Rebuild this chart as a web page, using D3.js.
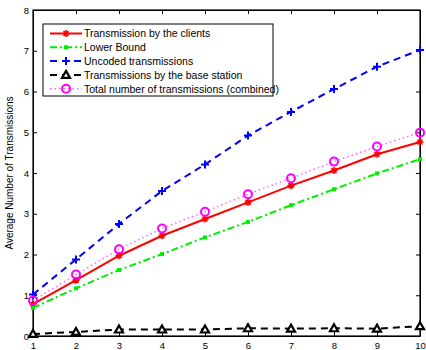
<!DOCTYPE html>
<html>
<head>
<meta charset="utf-8">
<script src="https://cdn.jsdelivr.net/npm/d3@7"></script>
<style>
  body { margin: 0; background: #fff; }
  text { font-family: "Liberation Sans", Arial, sans-serif; }
</style>
</head>
<body>
<div id="chart"></div>
<script>
const clients = [0.78, 1.37, 1.97, 2.46, 2.87, 3.28, 3.69, 4.06, 4.46, 4.76];
const lowerBound = [0.69, 1.17, 1.62, 2.01, 2.42, 2.8, 3.21, 3.6, 3.99, 4.34];
const uncoded = [1.02, 1.88, 2.75, 3.56, 4.21, 4.92, 5.5, 6.06, 6.61, 7.02];
const baseStation = [0.05, 0.1, 0.16, 0.16, 0.16, 0.19, 0.18, 0.19, 0.18, 0.24];
const combined = [0.87, 1.51, 2.13, 2.64, 3.05, 3.48, 3.87, 4.28, 4.65, 4.99];
const xTicks = [1, 2, 3, 4, 5, 6, 7, 8, 9, 10];
const yTicks = [0, 1, 2, 3, 4, 5, 6, 7, 8];

const W = 426, H = 350;
const margin = { top: 10, right: 6, bottom: 14, left: 33 };
const width = W - margin.left - margin.right;
const height = H - margin.top - margin.bottom;

const svg = d3.select("#chart").append("svg")
  .attr("width", W).attr("height", H);

const g = svg.append("g")
  .attr("transform", `translate(${margin.left},${margin.top})`);

const x = d3.scaleLinear().domain([1, 10]).range([0, width]);
const y = d3.scaleLinear().domain([0, 8]).range([height, 0]);

// axes with inward ticks (box style)
const tick = 4;
g.append("g").attr("transform", `translate(0,${height})`)
  .call(d3.axisBottom(x).tickValues(xTicks).tickSizeInner(-tick).tickSizeOuter(0).tickPadding(6));
g.append("g")
  .call(d3.axisLeft(y).tickValues(yTicks).tickSizeInner(-tick).tickSizeOuter(0).tickPadding(4));
g.append("g")
  .call(d3.axisTop(x).tickValues(xTicks).tickSizeInner(-tick).tickSizeOuter(0).tickFormat(""));
g.append("g").attr("transform", `translate(${width},0)`)
  .call(d3.axisRight(y).tickValues(yTicks).tickSizeInner(-tick).tickSizeOuter(0).tickFormat(""));
g.selectAll(".domain").attr("stroke", "#000");
g.selectAll(".tick line").attr("stroke", "#000");
g.selectAll(".tick text").style("font-size", "9.5px").attr("fill", "#000");
g.append("rect").attr("width", width).attr("height", height)
  .attr("fill", "none").attr("stroke", "#000").attr("stroke-width", 1.2);

svg.append("text")
  .attr("transform", `translate(13,${margin.top + height / 2}) rotate(-90)`)
  .attr("text-anchor", "middle")
  .style("font-size", "10px")
  .text("Average Number of Transmissions");

const series = [
  { name: "Transmission by the clients", data: clients, color: "#ff0000", lc: "#ff0000", dash: null, w: 2, marker: "star" },
  { name: "Lower Bound", data: lowerBound, color: "#00ee00", lc: "#00ee00", dash: "7,3,2,3", w: 2, marker: "dot" },
  { name: "Uncoded transmissions", data: uncoded, color: "#0000ff", lc: "#0000ff", dash: "7,5", w: 2, marker: "plus" },
  { name: "Transmissions by the base station", data: baseStation, color: "#000000", lc: "#000000", dash: "7,5", w: 2, marker: "tri" },
  { name: "Total number of transmissions (combined)", data: combined, color: "#ff00ff", lc: "#ff66ff", dash: "1.5,3", w: 1.5, marker: "circle" },
];

const line = d3.line().x((d, i) => x(xTicks[i])).y(d => y(d));

function drawMarker(sel, s) {
  if (s.marker === "star") {
    sel.append("path").attr("d", "M-3.5,0H3.5M0,-3.5V3.5M-2.5,-2.5L2.5,2.5M-2.5,2.5L2.5,-2.5")
      .attr("stroke", s.color).attr("stroke-width", 1.6);
  } else if (s.marker === "dot") {
    sel.append("rect").attr("x", -2).attr("y", -2).attr("width", 4).attr("height", 4).attr("fill", s.color);
  } else if (s.marker === "plus") {
    sel.append("path").attr("d", "M-4,0H4M0,-4V4").attr("stroke", s.color).attr("stroke-width", 2);
  } else if (s.marker === "tri") {
    sel.append("path").attr("d", "M0,-4L4,3H-4Z")
      .attr("fill", "#fff").attr("stroke", s.color).attr("stroke-width", 2.2);
  } else if (s.marker === "circle") {
    sel.append("circle").attr("r", 4).attr("fill", "none").attr("stroke", s.color).attr("stroke-width", 2);
  }
}

series.forEach(s => {
  g.append("path").datum(s.data)
    .attr("fill", "none").attr("stroke", s.lc).attr("stroke-width", s.w)
    .attr("stroke-dasharray", s.dash)
    .attr("d", line);
  s.data.forEach((v, i) => {
    const m = g.append("g").attr("transform", `translate(${x(xTicks[i])},${y(v)})`);
    drawMarker(m, s);
  });
});

// legend
const lg = svg.append("g").attr("transform", "translate(43,24)");
lg.append("rect").attr("width", 230).attr("height", 72)
  .attr("fill", "#fff").attr("stroke", "#000").attr("stroke-width", 1);
series.forEach((s, i) => {
  const yy = 9.5 + i * 13.8;
  lg.append("line").attr("x1", 7).attr("x2", 39).attr("y1", yy).attr("y2", yy)
    .attr("stroke", s.lc).attr("stroke-width", s.w).attr("stroke-dasharray", s.dash);
  drawMarker(lg.append("g").attr("transform", `translate(23,${yy})`), s);
  lg.append("text").attr("x", 41).attr("y", yy + 3.8)
    .style("font-size", "10.5px").text(s.name);
});
</script>
</body>
</html>
